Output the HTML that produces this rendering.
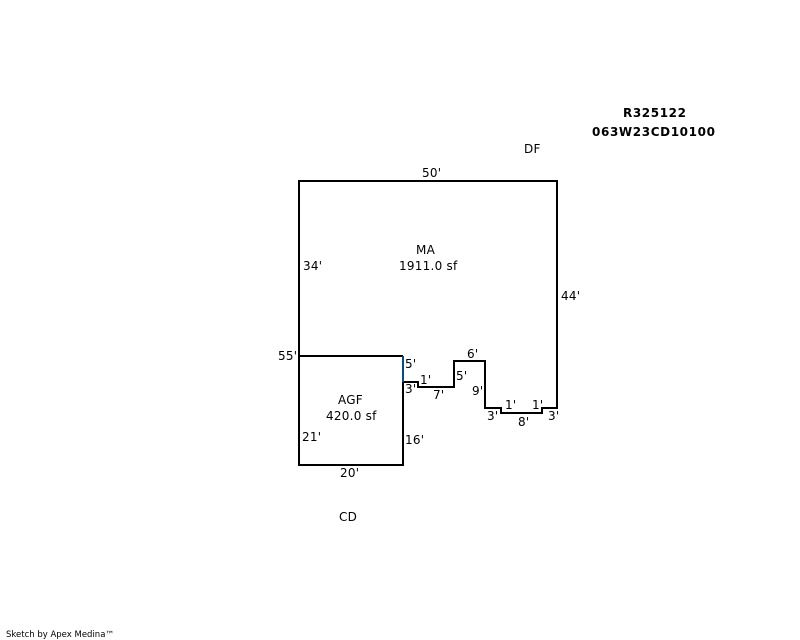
<!DOCTYPE html>
<html>
<head>
<meta charset="utf-8">
<style>
html,body{margin:0;padding:0;background:#fff;width:800px;height:640px;overflow:hidden}
svg{display:block}
text{font-family:"DejaVu Sans","Liberation Sans",sans-serif;font-size:12px;letter-spacing:0.25px;fill:#000}
</style>
</head>
<body>
<svg width="800" height="640" viewBox="0 0 800 640" xmlns="http://www.w3.org/2000/svg">
<g fill="none" stroke="#000" stroke-width="2" shape-rendering="crispEdges">
<polyline points="299,356 299,181 557,181 557,408 542,408 542,413 501,413 501,408 485,408 485,361 454,361 454,387 418,387 418,382 403,382"/>
<polyline points="299,356 403,356"/>
<polyline points="403,382 403,465 299,465 299,356"/>
<line x1="403" y1="356" x2="403" y2="382" stroke="#0a4a8c"/>
</g>
<text x="623" y="117" style="font-weight:bold;font-size:12px;letter-spacing:0.6px">R325122</text>
<text x="592" y="136" style="font-weight:bold;font-size:12px;letter-spacing:0.62px">063W23CD10100</text>
<text x="524" y="153">DF</text>
<text x="339" y="521">CD</text>
<text x="416" y="254">MA</text>
<text x="399" y="270">1911.0 sf</text>
<text x="338" y="404">AGF</text>
<text x="326" y="420">420.0 sf</text>
<text x="422" y="177">50'</text>
<text x="303" y="270">34'</text>
<text x="561" y="300">44'</text>
<text x="278" y="360">55'</text>
<text x="405" y="368">5'</text>
<text x="420" y="384">1'</text>
<text x="405" y="393">3'</text>
<text x="433" y="399">7'</text>
<text x="467" y="358">6'</text>
<text x="456" y="380">5'</text>
<text x="472" y="395">9'</text>
<text x="487" y="420">3'</text>
<text x="505" y="409">1'</text>
<text x="518" y="426">8'</text>
<text x="532" y="409">1'</text>
<text x="548" y="420">3'</text>
<text x="302" y="441">21'</text>
<text x="405" y="444">16'</text>
<text x="340" y="477">20'</text>
<text x="6" y="637" style="font-size:8.5px;letter-spacing:0">Sketch by Apex Medina™</text>
</svg>
</body>
</html>
